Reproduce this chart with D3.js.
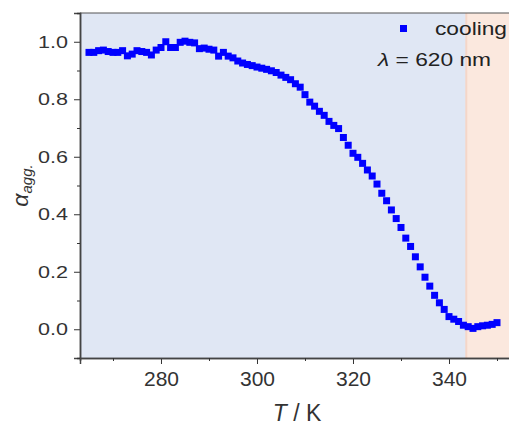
<!DOCTYPE html>
<html>
<head>
<meta charset="utf-8">
<script src="https://cdn.jsdelivr.net/npm/d3@7"></script>
<style>
  body { margin: 0; background: #fff; }
  svg { display: block; font-family: "Liberation Sans", Arial, sans-serif; }
</style>
</head>
<body>
<div id="chart"></div>
<script>
// temperatures (K), cooling run
const temps = d3.range(265, 351);
// aggregated fraction, one per temperature
const alphaAgg = [
  0.963, 0.963, 0.969, 0.971, 0.966, 0.963, 0.963, 0.969, 0.951, 0.957,
  0.969, 0.966, 0.963, 0.954, 0.971, 0.980, 1.000, 0.980, 0.980, 0.998,
  1.002, 0.998, 0.996, 0.976, 0.978, 0.974, 0.971, 0.950, 0.963, 0.950,
  0.944, 0.933, 0.926, 0.921, 0.917, 0.912, 0.908, 0.904, 0.899, 0.893,
  0.884, 0.876, 0.868, 0.854, 0.842, 0.816, 0.790, 0.776, 0.758, 0.744,
  0.723, 0.709, 0.698, 0.667, 0.640, 0.612, 0.598, 0.577, 0.554, 0.533,
  0.505, 0.473, 0.447, 0.415, 0.385, 0.354, 0.317, 0.288, 0.252, 0.217,
  0.181, 0.150, 0.118, 0.092, 0.069, 0.044, 0.035, 0.027, 0.014, 0.009,
  0.003, 0.009, 0.012, 0.014, 0.017, 0.023
];
const xMajor = [280, 300, 320, 340];
const xMinor = [270, 290, 310, 330, 350];
const yMajor = [0.0, 0.2, 0.4, 0.6, 0.8, 1.0];
const yMinor = [-0.1, 0.1, 0.3, 0.5, 0.7, 0.9, 1.1];
const splitT = 343.6;   // boundary between shaded regions

const width = 509, height = 427;
const margin = { top: 13, right: 0, bottom: 69, left: 80 };
const innerW = 460, innerH = height - margin.top - margin.bottom;

const data = temps.map((t, i) => [t, alphaAgg[i]]);

const svg = d3.select("#chart").append("svg")
    .attr("width", width)
    .attr("height", height);

const g = svg.append("g")
    .attr("transform", "translate(" + margin.left + "," + margin.top + ")");

const xScale = d3.scaleLinear().domain([263.125, 358.96]).range([0, innerW]);
const yScale = d3.scaleLinear().domain([-0.1, 1.1]).range([innerH, 0]);

// shaded regions
g.append("rect")
    .attr("x", 0).attr("y", 0)
    .attr("width", xScale(splitT)).attr("height", innerH)
    .attr("fill", "#e0e7f4");
g.append("rect")
    .attr("x", xScale(splitT)).attr("y", 0)
    .attr("width", innerW - xScale(splitT)).attr("height", innerH)
    .attr("fill", "#fbe8de");
g.append("line")
    .attr("x1", xScale(splitT)).attr("x2", xScale(splitT))
    .attr("y1", 0).attr("y2", innerH)
    .attr("stroke", "#f5d6c8").attr("stroke-width", 2);

// frame (top line)
g.append("line")
    .attr("x1", 0).attr("x2", innerW).attr("y1", 0).attr("y2", 0)
    .attr("stroke", "#555").attr("stroke-width", 1.2);

// axes
const xAxis = g.append("g")
    .attr("transform", "translate(0," + innerH + ")")
    .call(d3.axisBottom(xScale).tickValues(xMajor).tickSize(6).tickPadding(7).tickFormat(d3.format("d")));
g.append("g")
    .attr("transform", "translate(0," + innerH + ")")
    .call(d3.axisBottom(xScale).tickValues(xMinor).tickSize(3).tickFormat(""));
const yAxis = g.append("g")
    .call(d3.axisLeft(yScale).tickValues(yMajor).tickSize(6).tickPadding(6).tickFormat(d3.format(".1f")));
g.append("g")
    .call(d3.axisLeft(yScale).tickValues(yMinor).tickSize(3).tickFormat(""));

g.selectAll(".domain").attr("stroke", "#444").attr("stroke-width", 1.5);
g.selectAll(".tick line").attr("stroke", "#333");
xAxis.selectAll("text").style("font-size", "21px").attr("fill", "#333");
yAxis.selectAll("text").style("font-size", "17px").attr("fill", "#333")
    .attr("textLength", 30).attr("lengthAdjust", "spacingAndGlyphs");

// data markers
g.selectAll(".pt")
    .data(data)
    .enter().append("rect")
    .attr("class", "pt")
    .attr("x", d => xScale(d[0]) - 3.5)
    .attr("y", d => yScale(d[1]) - 3.5)
    .attr("width", 7)
    .attr("height", 7)
    .attr("fill", "#0000ff");

// axis titles
const yl = svg.append("text")
    .attr("transform", "translate(28," + (margin.top + innerH / 2) + ") rotate(-90)")
    .attr("text-anchor", "middle")
    .attr("fill", "#333")
    .style("font-size", "23px");
yl.append("tspan").style("font-style", "italic").text("α");
yl.append("tspan").attr("dy", 4).style("font-size", "15px").style("font-style", "italic").text("agg.");

const xl = svg.append("text")
    .attr("x", 297).attr("y", 421)
    .attr("text-anchor", "middle")
    .attr("fill", "#333")
    .style("font-size", "23px");
xl.append("tspan").style("font-style", "italic").text("T");
xl.append("tspan").text(" / K");

// legend
svg.append("rect")
    .attr("x", 400).attr("y", 25).attr("width", 7).attr("height", 7)
    .attr("fill", "#0000ff");
svg.append("text")
    .attr("x", 435).attr("y", 35)
    .attr("fill", "#222")
    .style("font-size", "19px")
    .attr("textLength", 72).attr("lengthAdjust", "spacingAndGlyphs")
    .text("cooling");
const lam = svg.append("text")
    .attr("x", 378).attr("y", 66)
    .attr("fill", "#222")
    .style("font-size", "19px")
    .attr("textLength", 113).attr("lengthAdjust", "spacingAndGlyphs");
lam.append("tspan").style("font-style", "italic").text("λ");
lam.append("tspan").text(" = 620 nm");
</script>
</body>
</html>
